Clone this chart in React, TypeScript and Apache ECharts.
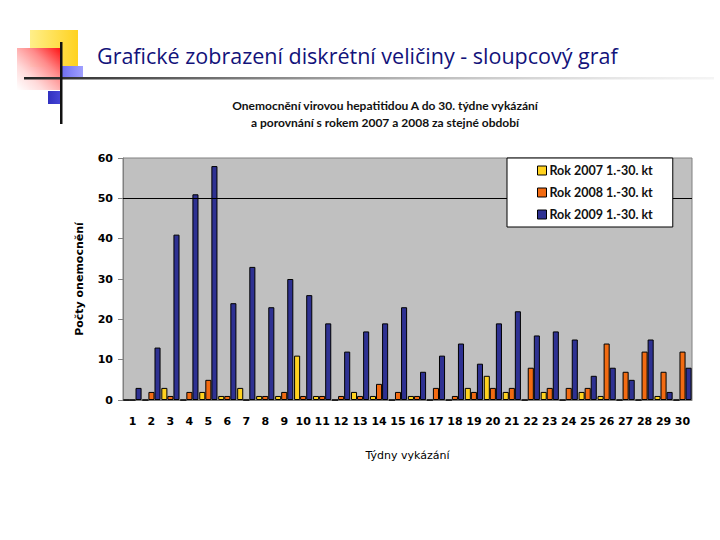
import React, { useEffect, useRef } from "react";
import * as echarts from "echarts";

const weeks = ["1","2","3","4","5","6","7","8","9","10","11","12","13","14","15","16","17","18","19","20","21","22","23","24","25","26","27","28","29","30"];
const seriesNames = ["Rok 2007 1.-30. kt", "Rok 2008 1.-30. kt", "Rok 2009 1.-30. kt"];
const values2007 = [0,0,3,0,2,1,3,1,1,11,1,0,2,1,0,1,0,0,3,6,2,0,2,0,2,1,0,0,1,0];
const values2008 = [0,2,1,2,5,1,0,1,2,1,1,1,1,4,2,1,3,1,2,3,3,8,3,3,3,14,7,12,7,12];
const values2009 = [3,13,41,51,58,24,33,23,30,26,19,12,17,19,23,7,11,14,9,19,22,16,17,15,6,8,5,15,2,8];
const yTicks = { min: 0, max: 60, interval: 10 };
const referenceLine = 50;

const mainTitle = "Grafické zobrazení diskrétní veličiny - sloupcový graf";
const chartTitle = "Onemocnění virovou hepatitidou A do 30. týdne vykázání";
const chartSubtitle = "a porovnání s rokem 2007 a 2008 za stejné období";
const yName = "Počty onemocnění";
const xName = "Týdny vykázání";

export default function App() {
  const ref = useRef<HTMLDivElement>(null);
  useEffect(() => {
    if (!ref.current) return;
    const chart = echarts.init(ref.current, undefined, { renderer: "svg" });
    const LG = echarts.graphic.LinearGradient;
    const font = "Lato, 'Open Sans', sans-serif";
    const titleFont = "'Open Sans', Lato, sans-serif";
    const axisFont = "'DejaVu Sans', Verdana, sans-serif";
    const colors = ["#FFD21F", "#F26B12", "#2E3192"];
    const mk = (i: number, data: number[], extra: any = {}) => ({
      name: seriesNames[i],
      type: "bar",
      data,
      barGap: "0%",
      barCategoryGap: "4%",
      itemStyle: { color: colors[i], borderColor: "#000", borderWidth: 1 },
      ...extra,
    });
    chart.setOption({
      animation: false,
      backgroundColor: "#fff",
      title: [
        {
          text: chartTitle,
          left: 380,
          top: 94,
          textAlign: "center",
          textStyle: { fontFamily: font, fontSize: 12, fontWeight: "bold", color: "#111" },
        },
        {
          text: chartSubtitle,
          left: 380,
          top: 111,
          textAlign: "center",
          textStyle: { fontFamily: font, fontSize: 12, fontWeight: "bold", color: "#111" },
        },
      ],
      graphic: [
        { type: "rect", shape: { x: 30, y: 30, width: 48, height: 37 }, style: { fill: new LG(0, 0, 1, 0, [{ offset: 0, color: "#FFEF8A" }, { offset: 1, color: "#FFD21F" }]) }, z: 1 },
        { type: "rect", shape: { x: 17, y: 48, width: 44, height: 42 }, style: { fill: new LG(1, 0, 0, 1, [{ offset: 0, color: "#FF1010" }, { offset: 0.35, color: "#FF8A8A" }, { offset: 0.7, color: "rgba(255,215,215,0.9)" }, { offset: 1, color: "rgba(255,255,255,0.9)" }]) }, z: 2 },
        { type: "rect", shape: { x: 62, y: 66, width: 21, height: 12 }, style: { fill: new LG(0, 0, 1, 0, [{ offset: 0, color: "#7070F0" }, { offset: 1, color: "#A0A0FF" }]) }, z: 2 },
        { type: "rect", shape: { x: 48, y: 91, width: 14, height: 13 }, style: { fill: new LG(0, 0, 1, 0, [{ offset: 0, color: "#3030C0" }, { offset: 1, color: "#4848D8" }]) }, z: 2 },
        { type: "rect", shape: { x: 24, y: 77, width: 690, height: 2.5 }, style: { fill: new LG(0, 0, 1, 0, [{ offset: 0, color: "#222" }, { offset: 0.3, color: "#777" }, { offset: 1, color: "rgba(220,220,220,0.3)" }]) }, z: 3 },
        { type: "rect", shape: { x: 60, y: 42, width: 2.5, height: 82 }, style: { fill: "#111" }, z: 3 },
        {
          type: "text",
          x: 97,
          y: 55,
          style: { text: mainTitle, font: `21.5px ${titleFont}`, fill: "#12127A", textVerticalAlign: "middle" },
          z: 3,
        },
      ],
      legend: {
        orient: "vertical",
        left: 507,
        top: 158,
        width: 168,
        backgroundColor: "#fff",
        borderColor: "#000",
        borderWidth: 1,
        padding: [6, 20, 6, 30],
        icon: "rect",
        itemWidth: 9,
        itemHeight: 9,
        itemGap: 9,
        itemStyle: { borderColor: "#000", borderWidth: 1 },
        textStyle: { fontFamily: font, fontSize: 12.5, fontWeight: "bold", color: "#111", padding: [0, 0, 0, -2] },
        data: seriesNames,
        z: 10,
      },
      grid: {
        left: 123,
        top: 158,
        right: 28,
        bottom: 140,
        show: true,
        backgroundColor: "#C0C0C0",
        borderColor: "#808080",
        borderWidth: 1,
      },
      xAxis: {
        type: "category",
        data: weeks,
        axisTick: { show: false },
        axisLine: { lineStyle: { color: "#808080" } },
        axisLabel: { fontFamily: axisFont, fontSize: 11, fontWeight: "bold", color: "#000", margin: 16, interval: 0 },
        name: xName,
        nameLocation: "middle",
        nameGap: 50,
        nameTextStyle: { fontFamily: axisFont, fontSize: 11, color: "#000" },
      },
      yAxis: {
        type: "value",
        min: yTicks.min,
        max: yTicks.max,
        interval: yTicks.interval,
        splitLine: { show: false },
        axisLine: { show: true, lineStyle: { color: "#808080" } },
        axisTick: { show: true, length: 5, lineStyle: { color: "#808080" } },
        axisLabel: { fontFamily: axisFont, fontSize: 11, fontWeight: "bold", color: "#000", margin: 10 },
        name: yName,
        nameLocation: "middle",
        nameGap: 38,
        nameTextStyle: { fontFamily: axisFont, fontSize: 11, fontWeight: "bold", color: "#000" },
      },
      series: [
        mk(0, values2007, {
          markLine: {
            silent: true,
            symbol: "none",
            label: { show: false },
            lineStyle: { color: "#000", type: "solid", width: 1 },
            data: [{ yAxis: referenceLine }],
          },
        }),
        mk(1, values2008),
        mk(2, values2009),
      ],
    });
    return () => chart.dispose();
  }, []);
  return <div ref={ref} style={{ position: "fixed", left: 0, top: 0, width: 720, height: 540 }} />;
}
